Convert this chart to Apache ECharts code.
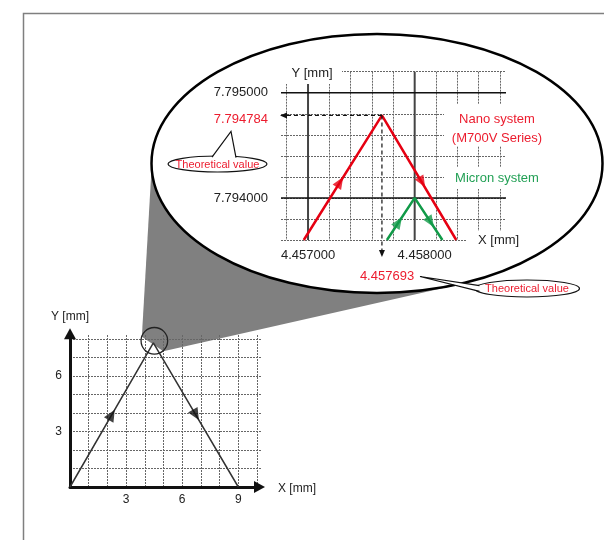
<!DOCTYPE html>
<html><head><meta charset="utf-8">
<script src="https://cdn.jsdelivr.net/npm/echarts@6/dist/echarts.min.js"></script>
<style>html,body{margin:0;padding:0;background:#fff}#c{width:604px;height:540px}</style>
</head><body><div id="c"></div>
<script>
// ---- data ----
const overviewX = [0, 4.457693, 9];
const overviewY = [0, 7.794784, 0];
const overviewArrowX = [2.23, 6.73];
const overviewArrowY = [3.90, 3.90];
const overviewXTicks = ['3', '6', '9'];
const overviewYTicks = ['3', '6'];

const nanoX = [4.45696, 4.457693, 4.45839];
const nanoY = [7.7936, 7.794784, 7.7936];
const nanoArrowX = [4.45730, 4.45807];
const nanoArrowY = [7.79415, 7.79415];
const microX = [4.45774, 4.458000, 4.45826];
const microY = [7.7936, 7.794000, 7.7936];
const microArrowX = [4.45785, 4.45815];
const microArrowY = [7.79377, 7.79377];
const zoomXTicks = ['4.457000', '4.458000'];
const zoomYTicks = ['7.795000', '7.794000'];
const theoreticalX = '4.457693';
const theoreticalY = '7.794784';

const RED = '#e60012', RED_T = '#ec1c2e', GREEN = '#119a48', GREEN_T = '#22a055';
const FONT = 'Liberation Sans, Arial, Helvetica, sans-serif';
const ZX = [4.4568, 4.4588], ZY = [7.7936, 7.7952];
const pts = (xs, ys) => xs.map((x, i) => [x, ys[i]]);
const near = (v, s) => Math.abs(v - parseFloat(s)) < 1e-7;
const dash = { show: true, lineStyle: { color: '#666', width: 1, type: [2, 1] } };

const chart = echarts.init(document.getElementById('c'), null, { renderer: 'canvas' });

// solid major grid lines in the magnified view, built from the tick arrays
const majorV = zoomXTicks.map((t, i) => ({
  id: 'vMajor' + i, type: 'line', xAxisIndex: 3, yAxisIndex: 3,
  data: [[parseFloat(t), ZY[0]], [parseFloat(t), ZY[1]]],
  symbol: 'none', silent: true, z: 3, lineStyle: { color: '#444', width: 2 }
}));
const majorH = zoomYTicks.map((t, i) => ({
  id: 'hMajor' + i, type: 'line', xAxisIndex: 4, yAxisIndex: 4,
  data: [[0, parseFloat(t)], [1, parseFloat(t)]],
  symbol: 'none', silent: true, z: 3, lineStyle: { color: '#111', width: 1.5 }
}));

const option = {
  animation: false,
  backgroundColor: '#fff',
  textStyle: { fontFamily: FONT },
  grid: [
    { left: 70, top: 339, width: 187, height: 148 },   // 0 overview data
    { left: 70, top: 335, width: 187, height: 152 },   // 1 overview vertical lines
    { left: 70, top: 339, width: 192, height: 148 },   // 2 overview horizontal lines
    { left: 286.7, top: 71.7, width: 213.3, height: 168.3 }, // 3 zoom data
    { left: 281, top: 71.7, width: 225, height: 168.3 }      // 4 zoom horizontal lines
  ],
  xAxis: [
    { gridIndex: 0, type: 'value', min: 0, max: 10, interval: 1, z: 4,
      axisLine: { show: true, onZero: true, lineStyle: { color: '#111', width: 3 },
        symbol: ['none', 'triangle'], symbolSize: [12, 11], symbolOffset: [0, 2.5] },
      axisTick: { show: false }, splitLine: { show: false },
      axisLabel: { margin: 7, color: '#222', fontSize: 12, fontFamily: FONT,
        formatter: v => overviewXTicks.find(t => near(v, t)) || '' } },
    { gridIndex: 1, type: 'value', min: 0, max: 10, interval: 1, z: 3,
      axisLine: { show: false }, axisTick: { show: false }, axisLabel: { show: false }, splitLine: dash },
    { gridIndex: 2, type: 'value', min: 0, max: 1, show: false },
    { gridIndex: 3, type: 'value', min: ZX[0], max: ZX[1], interval: 0.0002, z: 3,
      axisLine: { show: false }, axisTick: { show: false }, splitLine: dash,
      axisLabel: { margin: 9, color: '#222', fontSize: 13, fontFamily: FONT,
        formatter: v => { const t = zoomXTicks.find(s => near(v, s)); if (!t) return ''; return t === zoomXTicks[1] ? '{b|' + t + '}' : t; },
        rich: { b: { fontSize: 13, color: '#222', fontFamily: FONT, padding: [0, 0, 0, 20] } } } },
    { gridIndex: 4, type: 'value', min: 0, max: 1, show: false }
  ],
  yAxis: [
    { gridIndex: 0, type: 'value', min: 0, max: 8, interval: 1, z: 4,
      axisLine: { show: true, onZero: true, lineStyle: { color: '#111', width: 3 },
        symbol: ['none', 'triangle'], symbolSize: [12, 11], symbolOffset: [0, 5.2] },
      axisTick: { show: false }, splitLine: { show: false },
      axisLabel: { margin: 8, color: '#222', fontSize: 12, fontFamily: FONT,
        formatter: v => overviewYTicks.find(t => near(v, t)) || '' } },
    { gridIndex: 1, type: 'value', min: 0, max: 1, show: false },
    { gridIndex: 2, type: 'value', min: 0, max: 8, interval: 1, z: 3,
      axisLine: { show: false }, axisTick: { show: false }, axisLabel: { show: false }, splitLine: dash },
    { gridIndex: 3, type: 'value', min: ZY[0], max: ZY[1], interval: 0.0002, show: false },
    { gridIndex: 4, type: 'value', min: ZY[0], max: ZY[1], interval: 0.0002, z: 3,
      axisLine: { show: false }, axisTick: { show: false }, splitLine: dash,
      axisLabel: { margin: 13, color: '#222', fontSize: 13, fontFamily: FONT,
        formatter: v => zoomYTicks.find(t => near(v, t)) || '' } }
  ],
  series: [
    { id: 'ov', type: 'line', xAxisIndex: 0, yAxisIndex: 0, data: pts(overviewX, overviewY),
      symbol: 'none', silent: true, z: 10, lineStyle: { color: '#333', width: 1.5 } },
    { id: 'ovArr', type: 'scatter', xAxisIndex: 0, yAxisIndex: 0, data: pts(overviewArrowX, overviewArrowY),
      symbol: 'triangle', symbolSize: [11, 12], silent: true, z: 11, itemStyle: { color: '#111' } },
    { id: 'nano', type: 'line', xAxisIndex: 3, yAxisIndex: 3, data: pts(nanoX, nanoY),
      symbol: 'none', silent: true, z: 10, lineStyle: { color: RED, width: 2.5 } },
    { id: 'nanoArr', type: 'scatter', xAxisIndex: 3, yAxisIndex: 3, data: pts(nanoArrowX, nanoArrowY),
      symbol: 'triangle', symbolSize: [10, 12], silent: true, z: 11, itemStyle: { color: RED } },
    { id: 'micro', type: 'line', xAxisIndex: 3, yAxisIndex: 3, data: pts(microX, microY),
      symbol: 'none', silent: true, z: 10, lineStyle: { color: GREEN, width: 2.5 } },
    { id: 'microArr', type: 'scatter', xAxisIndex: 3, yAxisIndex: 3, data: pts(microArrowX, microArrowY),
      symbol: 'triangle', symbolSize: [10, 12], silent: true, z: 11, itemStyle: { color: GREEN } }
  ].concat(majorV, majorH)
};
chart.setOption(option);

// arrow rotations from pixel geometry
function rot(g, a, b) {
  const p = chart.convertToPixel({ gridIndex: g }, a), q = chart.convertToPixel({ gridIndex: g }, b);
  return Math.atan2(-(q[1] - p[1]), q[0] - p[0]) * 180 / Math.PI - 90;
}
function arrowData(g, xs, ys, ax, ay) {
  const P = pts(xs, ys);
  return pts(ax, ay).map((d, i) => ({ value: d, symbolRotate: rot(g, P[i], P[i + 1]) }));
}

const pS = chart.convertToPixel({ gridIndex: 0 }, [overviewX[1], overviewY[1]]);
const pZ = chart.convertToPixel({ gridIndex: 3 }, [nanoX[1], nanoY[1]]);
const cS = [pS[0] + 1, pS[1] - 2];

function txt(x, y, s, color, size, align, z) {
  return { type: 'text', x: x, y: y, z: z || 8, silent: true,
    style: { text: s, fill: color, font: size + 'px ' + FONT, textAlign: align || 'center', textVerticalAlign: 'middle' } };
}
function box(x, y, w, h) {
  return { type: 'rect', z: 6, silent: true, shape: { x: x, y: y, width: w, height: h }, style: { fill: '#fff' } };
}

const graphics = [
  // frame
  { type: 'polyline', z: 1, silent: true, shape: { points: [[23.5, 540], [23.5, 13.5], [604, 13.5]] },
    style: { stroke: '#7f7f7f', lineWidth: 1.5, fill: null } },
  // magnifier wedge
  { type: 'polygon', z: 1, silent: true,
    shape: { points: [[cS[0] - 12.5, cS[1] - 4], [151.5, 169], [470, 282], [cS[0] + 9, cS[1] + 10.5]] },
    style: { fill: '#808080' } },
  // big ellipse
  { type: 'ellipse', z: 2, silent: true, shape: { cx: 377, cy: 163.5, rx: 225.5, ry: 129.5 },
    style: { fill: '#fff', stroke: '#000', lineWidth: 2.5 } },
  // small circle
  { type: 'circle', z: 11, silent: true, shape: { cx: cS[0], cy: cS[1], r: 13.3 },
    style: { fill: null, stroke: '#222', lineWidth: 1.3 } },

  // overview axis names
  txt(70, 317, 'Y [mm]', '#222', 12),
  txt(278, 489, 'X [mm]', '#222', 12, 'left'),

  // zoom axis names with white boxes
  box(279, 60, 63, 24), txt(312, 73.5, 'Y [mm]', '#222', 13),
  box(466, 231, 56, 19), txt(478, 240.5, 'X [mm]', '#222', 13, 'left'),

  // legend-like texts
  box(444, 104, 108, 42),
  txt(497, 119, 'Nano system', RED_T, 13),
  txt(497, 138.5, '(M700V Series)', RED_T, 13),
  box(444, 167, 108, 22),
  txt(497, 178, 'Micron system', GREEN_T, 13),

  // theoretical values
  txt(268, 119, theoreticalY, RED_T, 13, 'right'),
  txt(387, 276, theoreticalX, RED_T, 13),

  // dashed guide arrows from peak
  { type: 'line', z: 11, silent: true, shape: { x1: pZ[0], y1: pZ[1], x2: 286, y2: pZ[1] },
    style: { stroke: '#111', lineWidth: 1.2, lineDash: [4, 3] } },
  { type: 'polygon', z: 11, silent: true, shape: { points: [[280, pZ[1]], [287, pZ[1] - 3], [287, pZ[1] + 3]] },
    style: { fill: '#111' } },
  { type: 'line', z: 11, silent: true, shape: { x1: pZ[0], y1: pZ[1], x2: pZ[0], y2: 251 },
    style: { stroke: '#111', lineWidth: 1.2, lineDash: [4, 3] } },
  { type: 'polygon', z: 11, silent: true, shape: { points: [[pZ[0], 257], [pZ[0] - 3, 250], [pZ[0] + 3, 250]] },
    style: { fill: '#111' } },

  // left callout bubble
  { type: 'ellipse', z: 6, silent: true, shape: { cx: 217.5, cy: 164, rx: 49.5, ry: 8 },
    style: { fill: '#fff', stroke: '#111', lineWidth: 1.2 } },
  { type: 'polygon', z: 7, silent: true, shape: { points: [[212, 158], [231, 131.5], [236, 158]] },
    style: { fill: '#fff' } },
  { type: 'polyline', z: 7, silent: true, shape: { points: [[212, 157.2], [231, 131.5], [236, 157.6]] },
    style: { stroke: '#111', lineWidth: 1.2, fill: null } },
  txt(217.5, 164.5, 'Theoretical value', RED_T, 11),

  // right callout bubble
  { type: 'ellipse', z: 6, silent: true, shape: { cx: 527, cy: 288.5, rx: 52.5, ry: 8.5 },
    style: { fill: '#fff', stroke: '#111', lineWidth: 1.2 } },
  { type: 'polygon', z: 7, silent: true, shape: { points: [[480, 285.8], [420, 276.5], [480, 291.2]] },
    style: { fill: '#fff' } },
  { type: 'polyline', z: 7, silent: true, shape: { points: [[479.5, 285.6], [420, 276.5], [479.5, 291.4]] },
    style: { stroke: '#111', lineWidth: 1.2, fill: null } },
  txt(527, 289, 'Theoretical value', RED_T, 11)
];

chart.setOption({
  graphic: graphics,
  series: [
    { id: 'ovArr', data: arrowData(0, overviewX, overviewY, overviewArrowX, overviewArrowY) },
    { id: 'nanoArr', data: arrowData(3, nanoX, nanoY, nanoArrowX, nanoArrowY) },
    { id: 'microArr', data: arrowData(3, microX, microY, microArrowX, microArrowY) }
  ]
});
</script></body></html>
